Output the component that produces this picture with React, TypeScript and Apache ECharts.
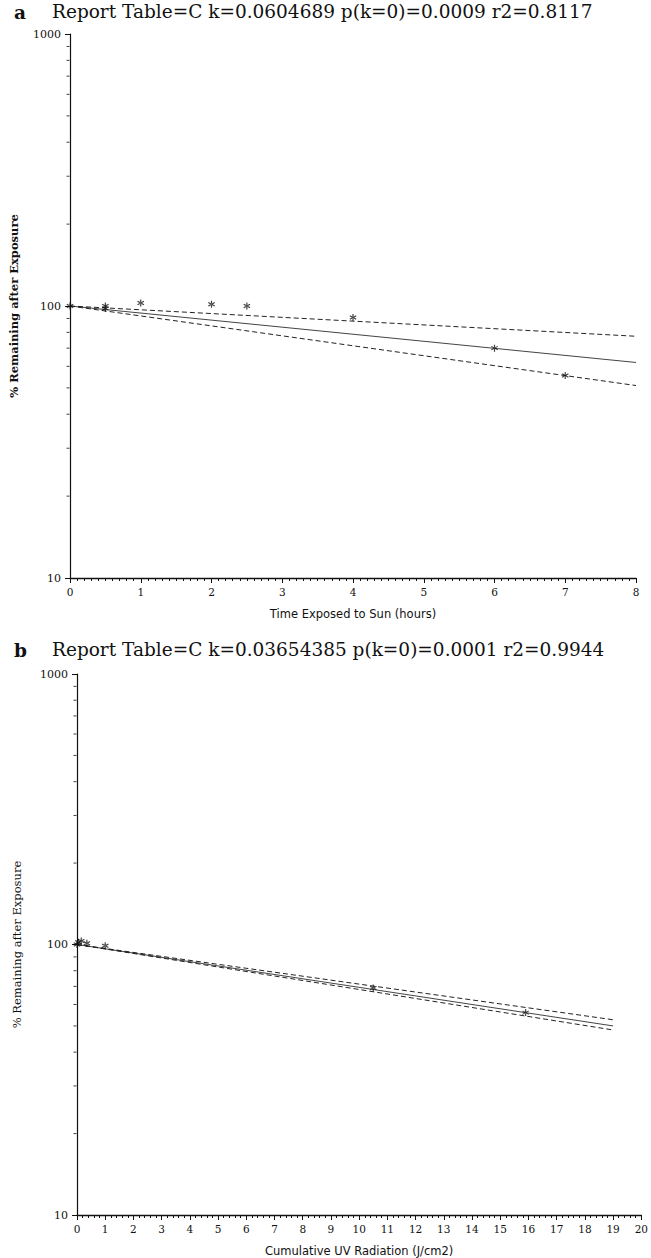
import React, { useEffect, useRef } from "react";
import * as echarts from "echarts";

// ---- Panel a data ----
const hoursX = [0, 0.5, 0.5, 1, 2, 2.5, 4, 6, 7];
const hoursY = [100, 100, 98, 102.5, 101.5, 100, 90.8, 70, 55.5];
const lineAX = [0, 8];
const fitAY = [100, 62];
const upperAY = [100, 77.4];
const lowerAY = [100, 51];
const xTicksA = [0, 1, 2, 3, 4, 5, 6, 7, 8];

// ---- Panel b data ----
const uvX = [0, 0.05, 0.15, 0.35, 1.0, 10.5, 15.9];
const uvY = [100, 102, 103, 101, 99, 69, 56];
const lineBX = [0, 19];
const fitBY = [100, 50];
const upperBY = [100, 52.7];
const lowerBY = [100, 48.3];
const xTicksB = [0, 1, 2, 3, 4, 5, 6, 7, 8, 9, 10, 11, 12, 13, 14, 15, 16, 17, 18, 19, 20];

// ---- shared ----
const yMajor = [10, 100, 1000];
const yMinor = [20, 30, 40, 50, 60, 70, 80, 90, 200, 300, 400, 500, 600, 700, 800, 900];

const titleA = "Report Table=C k=0.0604689 p(k=0)=0.0009 r2=0.8117";
const titleB = "Report Table=C k=0.03654385 p(k=0)=0.0001 r2=0.9944";
const yName = "% Remaining after Exposure";
const xNameA = "Time Exposed to Sun (hours)";
const xNameB = "Cumulative UV Radiation (J/cm2)";

const ASTERISK =
  "path://M-0.8,-5L0.8,-5L0.8,5L-0.8,5Z M3.93,3.19L4.73,1.81L-3.93,-3.19L-4.73,-1.81Z M-4.73,1.81L-3.93,3.19L4.73,-1.81L3.93,-3.19Z";

const SERIF = "'DejaVu Serif', 'Liberation Serif', serif";
const SANS = "'DejaVu Sans', sans-serif";
const INK = "#111";

const pair = (xs: number[], ys: number[]) => xs.map((x, i) => [x, ys[i]]);

export default function App() {
  const ref = useRef<HTMLDivElement>(null);
  useEffect(() => {
    document.body.style.margin = "0";
    const chart = echarts.init(ref.current!, undefined, { renderer: "svg" });

    const xAxisBase = (idx: number, max: number, name: string, split: number, labels: number[]) => ({
      type: "value",
      gridIndex: idx,
      min: 0,
      max,
      interval: 1,
      name,
      nameLocation: "middle",
      nameGap: 30,
      nameTextStyle: { fontFamily: SANS, fontSize: 11.5, color: INK },
      axisLine: { show: true, onZero: false, lineStyle: { color: INK, width: 1.4 } },
      axisTick: { show: true, inside: false, length: 5, lineStyle: { color: INK } },
      minorTick: { show: true, splitNumber: split, length: 3, lineStyle: { color: INK } },
      splitLine: { show: false },
      axisLabel: {
        fontFamily: SERIF,
        fontSize: 10.5,
        color: INK,
        margin: 8,
        formatter: (v: number) => (labels.includes(v) ? String(v) : ""),
      },
    });

    const yAxisBase = (idx: number, bold: boolean, gap: number) => ({
      type: "log",
      logBase: 10,
      gridIndex: idx,
      min: 10,
      max: 1000,
      name: yName,
      nameLocation: "middle",
      nameGap: gap,
      nameRotate: 90,
      nameTextStyle: {
        fontFamily: SERIF,
        fontSize: 11.5,
        fontWeight: bold ? "bold" : "normal",
        color: INK,
      },
      axisLine: { show: true, lineStyle: { color: INK, width: 1.2 } },
      axisTick: { show: true, inside: false, length: 5, lineStyle: { color: INK } },
      splitLine: { show: false },
      axisLabel: {
        fontFamily: SERIF,
        fontSize: 11,
        color: INK,
        margin: 9,
        formatter: (v: number) => (yMajor.includes(Math.round(v)) ? String(Math.round(v)) : ""),
      },
    });

    const scatter = (idx: number, xs: number[], ys: number[]) => ({
      type: "scatter",
      xAxisIndex: idx,
      yAxisIndex: idx,
      symbol: ASTERISK,
      symbolSize: 7,
      itemStyle: { color: INK },
      data: pair(xs, ys),
      z: 5,
    });

    const line = (idx: number, xs: number[], ys: number[], dashed: boolean) => ({
      type: "line",
      xAxisIndex: idx,
      yAxisIndex: idx,
      symbol: "none",
      data: pair(xs, ys),
      lineStyle: {
        color: dashed ? "#222" : "#444",
        width: 1,
        type: dashed ? [5, 3] : "solid",
      },
      z: 3,
    });

    const minorY = (idx: number) => ({
      type: "scatter",
      xAxisIndex: idx,
      yAxisIndex: idx,
      symbol: "rect",
      symbolSize: [3, 1],
      symbolOffset: [-2, 0],
      clip: false,
      silent: true,
      itemStyle: { color: INK },
      data: yMinor.map((v) => [0, v]),
      z: 4,
    });

    chart.setOption({
      animation: false,
      backgroundColor: "#fff",
      grid: [
        { left: 65, width: 571, top: 34, height: 544 },
        { left: 77, width: 567, top: 674, height: 542 },
      ],
      xAxis: [
        xAxisBase(0, 8, xNameA, 10, xTicksA),
        xAxisBase(1, 20, xNameB, 5, xTicksB),
      ],
      yAxis: [yAxisBase(0, true, 50), yAxisBase(1, false, 54)],
      graphic: [
        { type: "text", left: 14, top: 3, style: { text: "a", fontFamily: SERIF, fontSize: 18.5, fontWeight: "bold", fill: INK } },
        { type: "text", left: 52, top: 2, style: { text: titleA, fontFamily: SERIF, fontSize: 18.5, fill: INK } },
        { type: "text", left: 14, top: 641, style: { text: "b", fontFamily: SERIF, fontSize: 18.5, fontWeight: "bold", fill: INK } },
        { type: "text", left: 52, top: 640, style: { text: titleB, fontFamily: SERIF, fontSize: 18.5, fill: INK } },
      ],
      series: [
        line(0, lineAX, fitAY, false),
        line(0, lineAX, upperAY, true),
        line(0, lineAX, lowerAY, true),
        scatter(0, hoursX, hoursY),
        minorY(0),
        line(1, lineBX, fitBY, false),
        line(1, lineBX, upperBY, true),
        line(1, lineBX, lowerBY, true),
        scatter(1, uvX, uvY),
        minorY(1),
      ],
    });
    return () => chart.dispose();
  }, []);
  return <div ref={ref} style={{ width: 651, height: 1258 }} />;
}
